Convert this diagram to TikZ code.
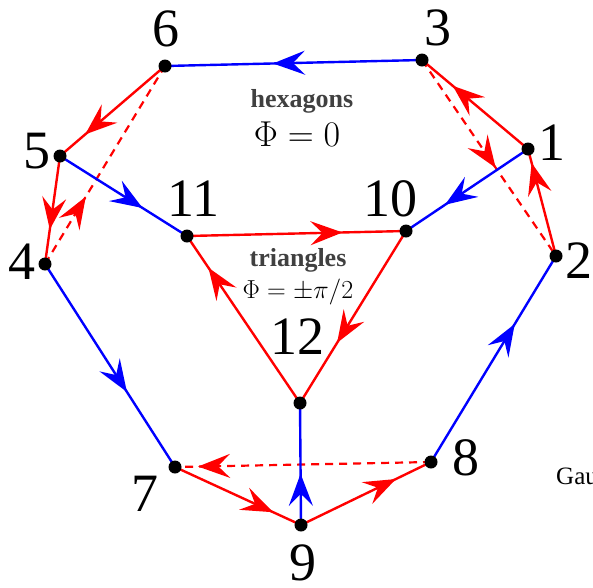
\RequirePackage{fix-cm}
\documentclass[tikz,border=0pt]{standalone}
\usepackage[no-math]{fontspec}
\setmainfont{Liberation Serif}
\usetikzlibrary{arrows.meta,decorations.markings}
\pgfdeclarelayer{bg}
\pgfsetlayers{bg,main}
\tikzset{
  dot/.style={circle,fill=black,inner sep=0pt,minimum size=13pt},
  lab/.style={inner sep=0pt,font=\fontsize{54}{60}\selectfont},
  rline/.style={color=red,line width=2.4pt},
  bline/.style={color=blue,line width=2.4pt},
  dline/.style={color=red,line width=2.2pt,dash pattern=on 8pt off 6pt},
  arr/.style={postaction={decorate},decoration={markings,
      mark=at position #1 with {\arrow{Stealth[length=32pt,width=24pt,inset=12pt]}}}},
}
\begin{document}
\begin{tikzpicture}[x=1pt,y=-1pt]
\useasboundingbox (0,0) rectangle (593,587);
\clip (0,0) rectangle (593,587);
% vertices
\node[dot] (n1) at (528,149) {};
\node[dot] (n2) at (556,256) {};
\node[dot] (n3) at (422,60) {};
\node[dot] (n4) at (45,264) {};
\node[dot] (n5) at (60,156) {};
\node[dot] (n6) at (165,66) {};
\node[dot] (n7) at (175,467) {};
\node[dot] (n8) at (431,462) {};
\node[dot] (n9) at (301,525) {};
\node[dot] (n10) at (406,231) {};
\node[dot] (n11) at (187,236) {};
\node[dot] (n12) at (300,403) {};
% labels
\node[lab] (l1) at (552,143) {1};
\node[lab] (l2) at (579,261) {2};
\node[lab] (l3) at (438,28) {3};
\node[lab] (l4) at (22,262) {4};
\node[lab] (l5) at (37,151) {5};
\node[lab] (l6) at (166,29) {6};
\node[lab] (l7) at (145,494) {7};
\node[lab] (l8) at (466,458) {8};
\node[lab] (l9) at (303,563) {9};
\node[lab] (l10) at (390,199) {10};
\node[lab] (l11) at (193,199) {11};
\node[lab] (l12) at (297,337) {12};
\node[inner sep=0pt,text=black!75,font=\bfseries\fontsize{26}{30}\selectfont] (hex) at (302,101) {hexagons};
\node[inner sep=0pt,font=\fontsize{36}{40}\selectfont] (phi0) at (297,134) {$\Phi = 0$};
\node[inner sep=0pt,text=black!75,font=\bfseries\fontsize{26}{30}\selectfont] (tri) at (298,260) {triangles};
\node[inner sep=0pt,font=\fontsize{26}{30}\selectfont] (phi1) at (298,292) {$\Phi = \pm\pi/2$};
\node[inner sep=0pt,anchor=west,font=\fontsize{25}{28}\selectfont] (gat) at (556,476) {Gau};
% edges
\begin{pgfonlayer}{bg}
\draw[bline,arr=0.58] (n3.center) -- (n6.center);
\draw[rline,arr=0.76] (n6.center) -- (n5.center);
\draw[rline,arr=0.68] (n5.center) -- (n4.center);
\draw[dline,arr=0.34] (n4.center) -- (n6.center);
\draw[bline,arr=0.65] (n5.center) -- (n11.center);
\draw[rline,arr=0.71] (n1.center) -- (n3.center);
\draw[dline,arr=0.55] (n3.center) -- (n2.center);
\draw[rline,arr=0.87] (n2.center) -- (n1.center);
\draw[bline,arr=0.68] (n1.center) -- (n10.center);
\draw[rline,arr=0.71] (n11.center) -- (n10.center);
\draw[rline,arr=0.65] (n10.center) -- (n12.center);
\draw[rline,arr=0.81] (n12.center) -- (n11.center);
\draw[bline,arr=0.63] (n4.center) -- (n7.center);
\draw[bline,arr=0.67] (n8.center) -- (n2.center);
\draw[rline,arr=0.78] (n7.center) -- (n9.center);
\draw[rline,arr=0.73] (n9.center) -- (n8.center);
\draw[dline,arr=0.91] (n8.center) -- (n7.center);
\draw[bline,arr=0.42] (n9.center) -- (n12.center);
\end{pgfonlayer}
\end{tikzpicture}
\end{document}
